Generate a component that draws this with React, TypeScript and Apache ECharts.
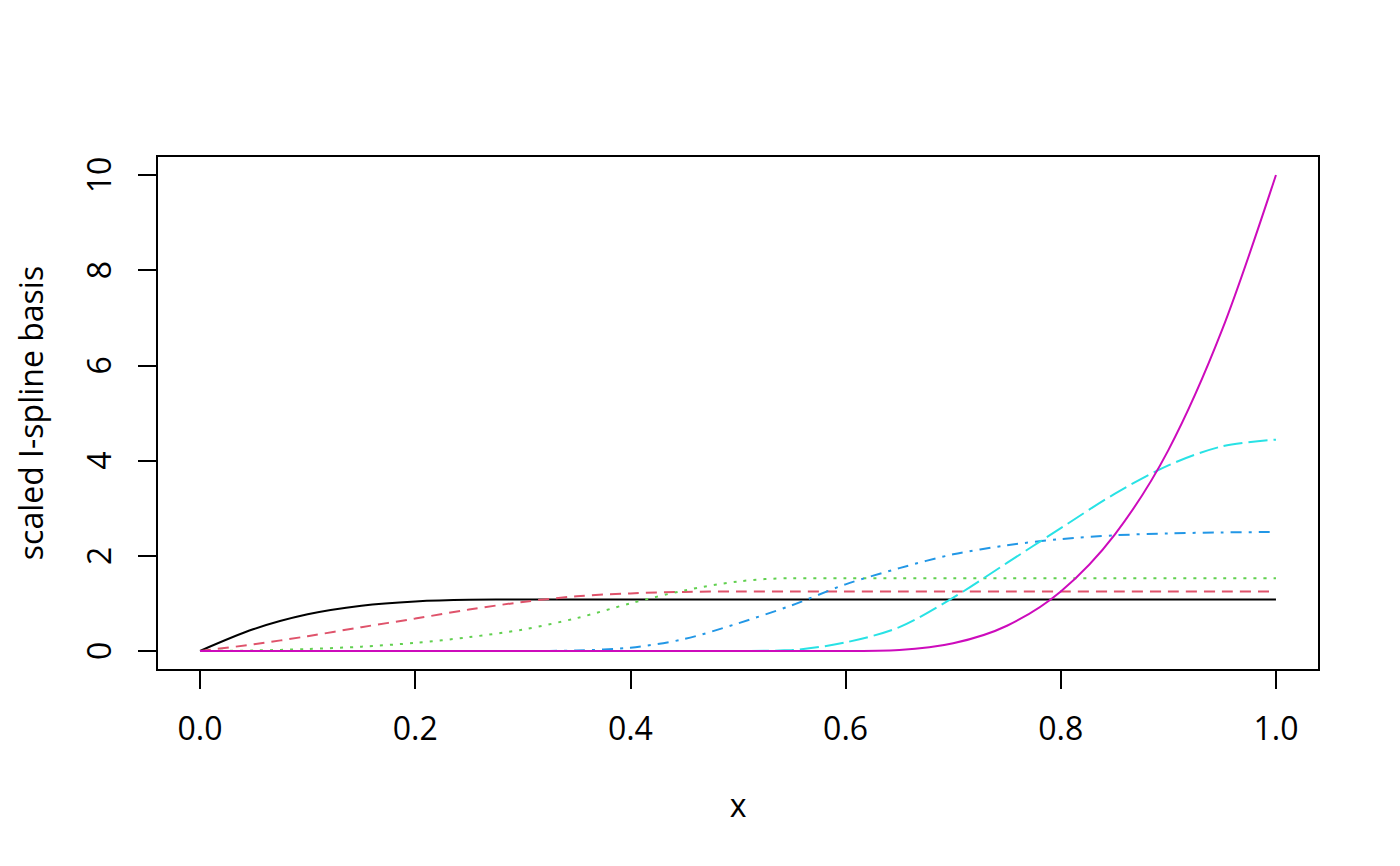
import React, { useEffect, useRef } from "react";
import * as echarts from "echarts";

// x grid of the curves
const xValues = [
  0, 0.05, 0.1, 0.15, 0.2, 0.25, 0.3, 0.35, 0.4, 0.45, 0.5,
  0.55, 0.6, 0.65, 0.7, 0.75, 0.8, 0.85, 0.9, 0.95, 1.0,
];

// six scaled I-spline basis functions
const basis1 = [0, 0.46, 0.77, 0.95, 1.04, 1.075, 1.08, 1.08, 1.08, 1.08, 1.08, 1.08, 1.08, 1.08, 1.08, 1.08, 1.08, 1.08, 1.08, 1.08, 1.08];
const basis2 = [0, 0.14, 0.31, 0.5, 0.68, 0.87, 1.03, 1.15, 1.21, 1.24, 1.25, 1.25, 1.25, 1.25, 1.25, 1.25, 1.25, 1.25, 1.25, 1.25, 1.25];
const basis3 = [0, 0.01, 0.04, 0.09, 0.17, 0.29, 0.45, 0.69, 1.0, 1.27, 1.46, 1.53, 1.53, 1.53, 1.53, 1.53, 1.53, 1.53, 1.53, 1.53, 1.53];
const basis4 = [0, 0, 0, 0, 0, 0, 0, 0.01, 0.07, 0.25, 0.58, 0.96, 1.4, 1.74, 2.03, 2.22, 2.35, 2.43, 2.47, 2.49, 2.5];
const basis5 = [0, 0, 0, 0, 0, 0, 0, 0, 0, 0, 0, 0.02, 0.18, 0.5, 1.12, 1.85, 2.58, 3.3, 3.9, 4.3, 4.44];
const basis6 = [0, 0, 0, 0, 0, 0, 0, 0, 0, 0, 0, 0, 0, 0.02, 0.16, 0.53, 1.25, 2.44, 4.22, 6.75, 10];

const seriesList = [basis1, basis2, basis3, basis4, basis5, basis6];
const seriesColors = ["#000000", "#DF536B", "#61D04F", "#2297E6", "#28E2E5", "#CD0BBC"];
const seriesDashes: (number[] | "solid")[] = [
  "solid",
  [11, 7],
  [3, 7],
  [3, 7, 11, 7],
  [19, 6],
  "solid",
];

// axes
const xTicks = [0, 0.2, 0.4, 0.6, 0.8, 1.0];
const xTickLabels = ["0.0", "0.2", "0.4", "0.6", "0.8", "1.0"];
const yTicks = [0, 2, 4, 6, 8, 10];
const yTickLabels = ["0", "2", "4", "6", "8", "10"];
const xTitle = "x";
const yTitle = "scaled I-spline basis";

const FONT = "Open Sans";

function labelFor(ticks: number[], labels: string[]) {
  return (v: number) => {
    const i = ticks.findIndex((t) => Math.abs(t - v) < 1e-9);
    return i >= 0 ? labels[i] : "";
  };
}

export default function App() {
  const ref = useRef<HTMLDivElement>(null);

  useEffect(() => {
    if (!ref.current) return;
    const chart = echarts.init(ref.current, undefined, { renderer: "svg" });
    const textStyle = { color: "#000", fontSize: 32, fontFamily: FONT };
    chart.setOption({
      animation: false,
      backgroundColor: "#ffffff",
      grid: {
        left: 157,
        top: 156,
        width: 1162,
        height: 514,
        show: true,
        borderColor: "#000",
        borderWidth: 2,
        backgroundColor: "transparent",
        containLabel: false,
      },
      xAxis: {
        type: "value",
        min: -0.04,
        max: 1.04,
        axisLine: { show: false, onZero: false },
        splitLine: { show: false },
        axisTick: {
          show: true,
          customValues: xTicks,
          length: 19,
          lineStyle: { color: "#000", width: 2 },
        },
        axisLabel: {
          customValues: xTicks,
          formatter: labelFor(xTicks, xTickLabels),
          margin: 41,
          ...textStyle,
        },
        name: xTitle,
        nameLocation: "middle",
        nameGap: 118,
        nameTextStyle: textStyle,
      },
      yAxis: {
        type: "value",
        min: -0.4,
        max: 10.4,
        axisLine: { show: false, onZero: false },
        splitLine: { show: false },
        axisTick: {
          show: true,
          customValues: yTicks,
          length: 19,
          lineStyle: { color: "#000", width: 2 },
        },
        axisLabel: {
          customValues: yTicks,
          formatter: labelFor(yTicks, yTickLabels),
          rotate: 90,
          margin: 43,
          ...textStyle,
        },
        name: yTitle,
        nameLocation: "middle",
        nameGap: 111,
        nameTextStyle: textStyle,
      },
      series: seriesList.map((vals, k) => ({
        type: "line",
        data: xValues.map((x, i) => [x, vals[i]]),
        showSymbol: false,
        symbol: "none",
        smooth: 0.3,
        silent: true,
        lineStyle: {
          color: seriesColors[k],
          width: 2,
          type: seriesDashes[k],
          cap: "butt",
        },
      })),
    });
    return () => chart.dispose();
  }, []);

  return (
    <div
      ref={ref}
      style={{ position: "fixed", left: 0, top: 0, width: 1400, height: 866, background: "#fff" }}
    />
  );
}
